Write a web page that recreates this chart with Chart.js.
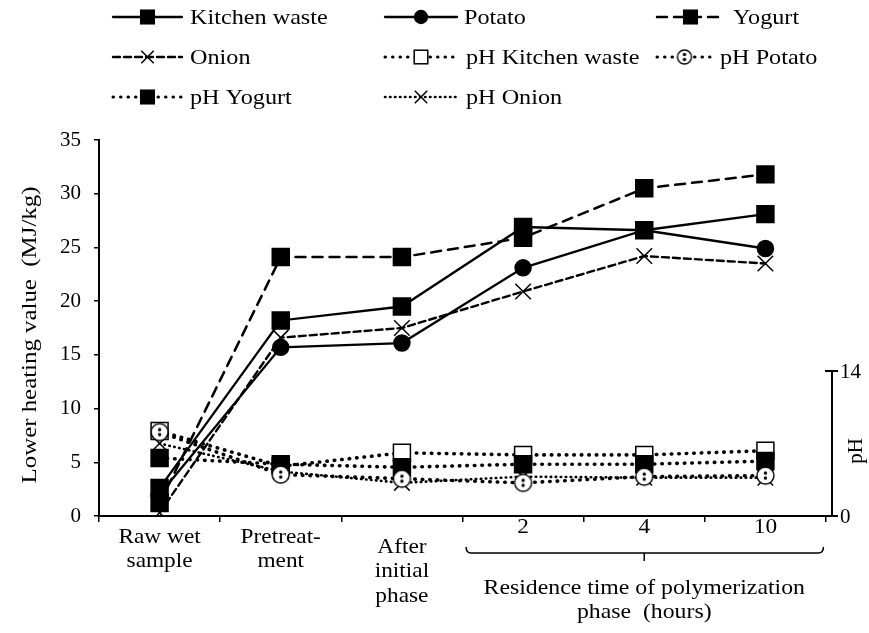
<!DOCTYPE html>
<html>
<head>
<meta charset="utf-8">
<script src="https://cdn.jsdelivr.net/npm/chart.js@4/dist/chart.umd.min.js"></script>
<style>
  html, body { margin: 0; padding: 0; background: #fff; }
  #wrap { width: 869px; height: 633px; }
</style>
</head>
<body>
<div id="wrap"><canvas id="myChart" width="869" height="633"></canvas></div>
<script>
// values
var categories = ['Raw wet sample', 'Pretreatment', 'After initial phase', '2', '4', '10'];
var xLabelLines = [['Raw wet', 'sample'], ['Pretreat-', 'ment'], ['After', 'initial', 'phase'], ['2'], ['4'], ['10']];
var groupLabel = ['Residence time of polymerization', 'phase  (hours)'];

var kitchenWaste = [2.6, 18.2, 19.5, 26.9, 26.6, 28.1];
var potato       = [2.0, 15.7, 16.1, 23.1, 26.6, 24.9];
var yogurt       = [1.2, 24.1, 24.1, 25.9, 30.5, 31.8];
var onion        = [0.3, 16.6, 17.5, 20.9, 24.2, 23.5];

var phKitchenWaste = [8.2, 4.8, 6.1, 5.9, 5.9, 6.3];
var phPotato       = [8.1, 4.0, 3.6, 3.2, 3.8, 3.9];
var phYogurt       = [5.6, 5.0, 4.7, 5.0, 5.0, 5.3];
var phOnion        = [7.0, 4.3, 3.2, 3.8, 3.7, 3.7];

var lhvTicks = [0, 5, 10, 15, 20, 25, 30, 35];
var phTicks = [0, 14];

var FONT = '"Liberation Serif", "Times New Roman", serif';

// open circle with a dot, for pH Potato
function potatoMark(r) {
  var c = document.createElement('canvas');
  var s = Math.ceil(r * 2 + 4);
  c.width = s; c.height = s;
  var g = c.getContext('2d');
  g.fillStyle = '#fff';
  g.strokeStyle = '#000';
  g.lineWidth = 1.4;
  g.beginPath(); g.arc(s / 2, s / 2, r, 0, Math.PI * 2); g.fill(); g.stroke();
  g.fillStyle = '#000';
  g.beginPath(); g.arc(s / 2, s / 2 - 2.5, 1.7, 0, Math.PI * 2); g.fill();
  g.beginPath(); g.arc(s / 2, s / 2 + 2.5, 1.7, 0, Math.PI * 2); g.fill();
  return c;
}
var potatoPt = potatoMark(8.5);
var potatoPtSmall = potatoMark(7);

var dots = [0.5, 7];

var datasets = [
  { label: 'Kitchen waste', data: kitchenWaste, yAxisID: 'y', borderWidth: 2.3, borderDash: [],
    pointStyle: 'rect', pointRadius: 12, pointBackgroundColor: '#000', order: 0 },
  { label: 'Potato', data: potato, yAxisID: 'y', borderWidth: 2.3, borderDash: [],
    pointStyle: 'circle', pointRadius: 8, pointBackgroundColor: '#000', order: 0 },
  { label: 'Yogurt', data: yogurt, yAxisID: 'y', borderWidth: 2.5, borderDash: [10, 7],
    pointStyle: 'rect', pointRadius: 12, pointBackgroundColor: '#000', order: 0 },
  { label: 'Onion', data: onion, yAxisID: 'y', borderWidth: 2.4, borderDash: [7, 4],
    pointStyle: 'crossRot', pointRadius: 11, pointBackgroundColor: '#000', order: 0 },
  { label: 'pH Kitchen waste', data: phKitchenWaste, yAxisID: 'y2', borderWidth: 3.6, borderDash: dots,
    pointStyle: 'rect', pointRadius: 12, pointBackgroundColor: '#fff', order: 2 },
  { label: 'pH Potato', data: phPotato, yAxisID: 'y2', borderWidth: 3.6, borderDash: dots,
    pointStyle: potatoPt, legendStyle: potatoPtSmall, pointRadius: 9, pointBackgroundColor: '#fff', order: 1 },
  { label: 'pH Yogurt', data: phYogurt, yAxisID: 'y2', borderWidth: 3.6, borderDash: dots,
    pointStyle: 'rect', pointRadius: 12, pointBackgroundColor: '#000', order: 1 },
  { label: 'pH Onion', data: phOnion, yAxisID: 'y2', borderWidth: 2.6, borderDash: [0.5, 4.5],
    pointStyle: 'crossRot', pointRadius: 11, pointBackgroundColor: '#000', order: 1 }
];
datasets.forEach(function (d) {
  d.borderColor = '#000';
  d.pointBorderColor = '#000';
  d.pointBorderWidth = 1.5;
  d.borderCapStyle = 'round';
  d.fill = false;
  d.tension = 0;
});

function drawMark(ctx, style, r, cx, cy, fill) {
  ctx.save();
  ctx.setLineDash([]);
  ctx.lineWidth = 1.5;
  ctx.strokeStyle = '#000';
  ctx.fillStyle = fill;
  if (typeof style !== 'string') {
    ctx.drawImage(style, cx - style.width / 2, cy - style.height / 2);
  } else if (style === 'rect') {
    var s = r * Math.SQRT1_2;
    ctx.fillRect(cx - s, cy - s, 2 * s, 2 * s);
    ctx.strokeRect(cx - s, cy - s, 2 * s, 2 * s);
  } else if (style === 'circle') {
    ctx.beginPath(); ctx.arc(cx, cy, r, 0, Math.PI * 2); ctx.fill(); ctx.stroke();
  } else if (style === 'crossRot') {
    var o = r * Math.SQRT1_2;
    ctx.beginPath();
    ctx.moveTo(cx - o, cy - o); ctx.lineTo(cx + o, cy + o);
    ctx.moveTo(cx - o, cy + o); ctx.lineTo(cx + o, cy - o);
    ctx.stroke();
  }
  ctx.restore();
}

// the figure's serif is a bit wider than Liberation Serif
function wideText(ctx, t, x, y, sx) {
  ctx.save();
  ctx.translate(x, y);
  ctx.scale(sx, 1);
  ctx.fillText(t, 0, 0);
  ctx.restore();
}

var extras = {
  id: 'extras',
  afterDraw: function (chart) {
    var ctx = chart.ctx;
    var xs = chart.scales.x, y2 = chart.scales.y2;
    ctx.save();
    ctx.fillStyle = '#000';
    ctx.strokeStyle = '#000';
    ctx.textBaseline = 'middle';

    // legend (3 columns)
    var slots = [
      [113, 182, 190, 17], [385, 457, 464, 17], [657, 724, 733, 17],
      [113, 182, 190, 57], [385, 457, 466, 57], [657, 712, 720, 57],
      [113, 182, 190, 97], [385, 457, 466, 97]
    ];
    ctx.font = '22px ' + FONT;
    ctx.textAlign = 'left';
    datasets.forEach(function (d, i) {
      var s = slots[i];
      ctx.save();
      ctx.lineWidth = Math.min(d.borderWidth, 3);
      ctx.lineCap = 'round';
      ctx.setLineDash(d.borderDash);
      ctx.beginPath(); ctx.moveTo(s[0], s[3]); ctx.lineTo(s[1], s[3]); ctx.stroke();
      ctx.restore();
      drawMark(ctx, d.legendStyle || d.pointStyle, d.pointRadius * 0.8, (s[0] + s[1]) / 2, s[3], d.pointBackgroundColor);
      wideText(ctx, d.label, s[2], s[3] + 1, 1.1);
    });

    // category labels under the x axis
    ctx.font = '22px ' + FONT;
    ctx.textAlign = 'center';
    xLabelLines.forEach(function (lines, i) {
      var cx = xs.getPixelForValue(i);
      var top = i < 2 ? 537 : (i === 2 ? 547 : 527);
      lines.forEach(function (t, k) { wideText(ctx, t, cx, top + k * 24.5, 1.06); });
    });

    // bracket for the polymerization group
    var bx1 = xs.getPixelForValue(3) - 57, bx2 = xs.getPixelForValue(5) + 58, bm = xs.getPixelForValue(4);
    ctx.lineWidth = 1.5;
    ctx.beginPath();
    ctx.moveTo(bx1, 547); ctx.quadraticCurveTo(bx1, 553, bx1 + 5, 553);
    ctx.lineTo(bx2 - 5, 553); ctx.quadraticCurveTo(bx2, 553, bx2, 547);
    ctx.moveTo(bm, 553); ctx.lineTo(bm, 561);
    ctx.stroke();
    wideText(ctx, groupLabel[0], bm, 588, 1.08);
    wideText(ctx, groupLabel[1], bm, 612, 1.08);

    // left axis title
    ctx.save();
    ctx.font = '22px ' + FONT;
    ctx.translate(30, 335);
    ctx.rotate(-Math.PI / 2);
    wideText(ctx, 'Lower heating value  (MJ/kg)', 0, 0, 1.13);
    ctx.restore();

    // short pH axis on the right
    var ax = 832;
    var yb = y2.getPixelForValue(phTicks[0]), yt = y2.getPixelForValue(phTicks[1]);
    ctx.lineWidth = 2;
    ctx.beginPath();
    ctx.moveTo(ax, yb); ctx.lineTo(ax, yt);
    ctx.moveTo(ax - 7, yb); ctx.lineTo(ax + 6, yb);
    ctx.moveTo(ax - 7, yt); ctx.lineTo(ax + 6, yt);
    ctx.stroke();
    ctx.font = '21px ' + FONT;
    ctx.textAlign = 'left';
    phTicks.forEach(function (v) { ctx.fillText(String(v), ax + 8, y2.getPixelForValue(v) + 1); });
    ctx.save();
    ctx.translate(856, 451);
    ctx.rotate(-Math.PI / 2);
    ctx.textAlign = 'center';
    ctx.fillText('pH', 0, 0);
    ctx.restore();

    ctx.restore();
  }
};

var ctx = document.getElementById('myChart').getContext('2d');
var myChart = new Chart(ctx, {
  type: 'line',
  data: { labels: categories, datasets: datasets },
  options: {
    responsive: false,
    animation: false,
    events: [],
    layout: { padding: { top: 140, left: 0, right: 0, bottom: 0 } },
    plugins: { legend: { display: false }, tooltip: { enabled: false } },
    scales: {
      x: {
        type: 'category',
        offset: true,
        grid: { offset: true, drawOnChartArea: false, tickLength: 6, color: '#000', lineWidth: 1.5 },
        border: { color: '#000', width: 2 },
        ticks: { display: false },
        afterFit: function (s) { s.height = 117; }
      },
      y: {
        position: 'left',
        min: 0, max: 35,
        grid: { drawOnChartArea: false, tickLength: 5, color: '#000', lineWidth: 1.5 },
        border: { color: '#000', width: 2 },
        ticks: { stepSize: 5, color: '#000', padding: 13, font: { family: FONT, size: 21 } },
        afterBuildTicks: function (s) { s.ticks = lhvTicks.map(function (v) { return { value: v }; }); },
        afterFit: function (s) { s.width = 99; }
      },
      y2: {
        position: 'right',
        min: 0, max: 36.3,
        grid: { display: false },
        border: { display: false },
        ticks: { display: false },
        afterFit: function (s) { s.width = 43; }
      }
    }
  },
  plugins: [extras]
});
</script>
</body>
</html>
